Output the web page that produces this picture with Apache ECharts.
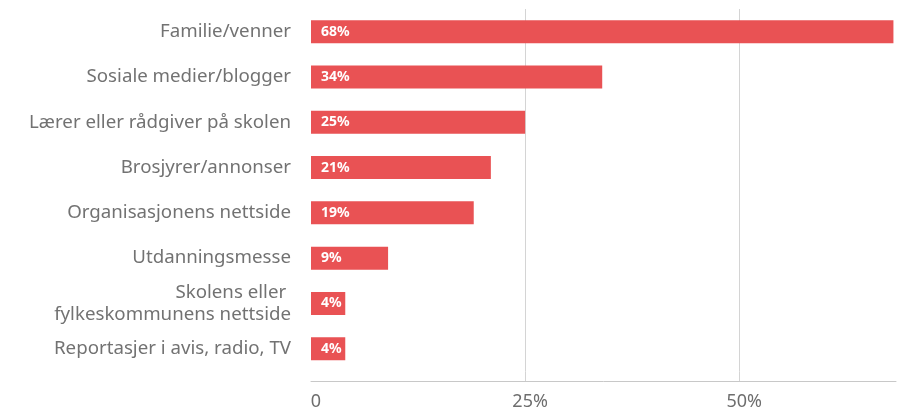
<!DOCTYPE html>
<html>
<head>
<meta charset="utf-8">
<script src="https://cdn.jsdelivr.net/npm/echarts@6/dist/echarts.min.js"></script>
<style>
  html, body { margin: 0; padding: 0; background: #fff; }
  #chart { width: 906px; height: 411px; }
</style>
</head>
<body>
<div id="chart"></div>
<script>
// categories top to bottom
const categories = [
  "Familie/venner",
  "Sosiale medier/blogger",
  "Lærer eller rådgiver på skolen",
  "Brosjyrer/annonser",
  "Organisasjonens nettside",
  "Utdanningsmesse",
  "Skolens eller \nfylkeskommunens nettside",
  "Reportasjer i avis, radio, TV"
];
const values = [68, 34, 25, 21, 19, 9, 4, 4];
const xTicks = [0, 25, 50];

const FONT = "'Noto Sans', sans-serif";
const axisMax = 68.3;

const chart = echarts.init(document.getElementById("chart"));

const gridLine = {
  show: true,
  showMinLine: false,
  showMaxLine: false,
  lineStyle: { color: "#d4d4d4", width: 1 }
};

const option = {
  animation: false,
  grid: [
    { left: 311, right: 10, top: 9, bottom: 39.6 },
    // thin strip below the bars so gridlines reach the axis line
    { left: 311, right: 10, top: 371.4, bottom: 30 }
  ],
  xAxis: [
    {
      gridIndex: 0,
      type: "value",
      min: 0,
      max: axisMax,
      interval: 25,
      axisLine: { show: false },
      axisTick: { show: false },
      axisLabel: { show: false },
      splitLine: gridLine
    },
    {
      gridIndex: 1,
      type: "value",
      min: 0,
      max: axisMax,
      interval: 25,
      axisLine: { show: true, lineStyle: { color: "#c8c8c8", width: 1 } },
      axisTick: { show: false },
      splitLine: gridLine,
      axisLabel: {
        show: true,
        showMaxLabel: false,
        margin: 12,
        padding: [0, 0, 0, 10],
        color: "#6e6e6e",
        fontFamily: FONT,
        fontSize: 18,
        formatter: v => (xTicks.indexOf(v) === -1 ? "" : (v === 0 ? "0" : v + "%"))
      }
    }
  ],
  yAxis: [
    {
      gridIndex: 0,
      type: "category",
      inverse: true,
      data: categories,
      axisLine: { show: false },
      axisTick: { show: false },
      splitLine: { show: false },
      axisLabel: {
        margin: 20,
        color: "#727272",
        fontFamily: FONT,
        fontSize: 18.7,
        lineHeight: 22
      }
    },
    {
      gridIndex: 1,
      type: "category",
      data: [""],
      show: false
    }
  ],
  series: [
    {
      type: "bar",
      xAxisIndex: 0,
      yAxisIndex: 0,
      data: values,
      barWidth: 23,
      itemStyle: { color: "#e95254" },
      label: {
        show: true,
        position: "insideLeft",
        distance: 10,
        color: "#ffffff",
        fontFamily: FONT,
        fontWeight: "bold",
        fontSize: 14,
        formatter: p => p.value + "%"
      }
    }
  ]
};

chart.setOption(option);
window.addEventListener("resize", chart.resize);
</script>
</body>
</html>
